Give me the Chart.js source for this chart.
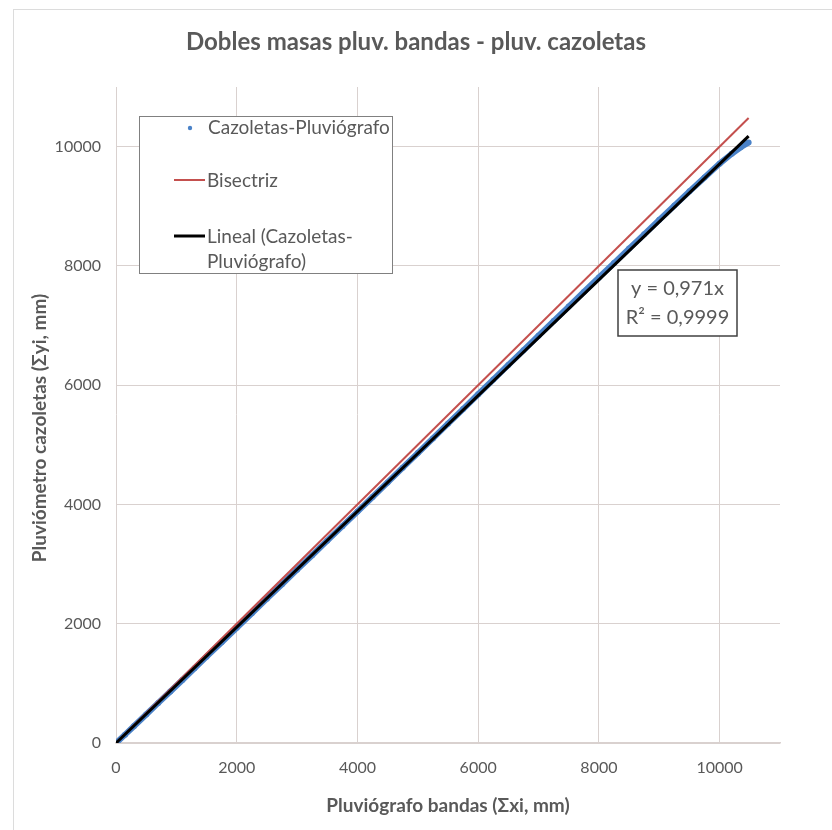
<!DOCTYPE html>
<html>
<head>
<meta charset="utf-8">
<script src="https://cdn.jsdelivr.net/npm/chart.js@4/dist/chart.umd.min.js"></script>
<style>
  html, body { margin: 0; padding: 0; background: #ffffff; }
  #wrap { position: relative; width: 832px; height: 830px; overflow: hidden; }
  #frame { position: absolute; left: 13px; top: 9px; width: 900px; height: 900px; border: 1px solid #dcdcdc; }
  canvas { position: absolute; left: 0; top: 0; }
</style>
</head>
<body>
<div id="wrap">
  <div id="frame"></div>
  <canvas id="c" width="832" height="830"></canvas>
</div>
<script>
// Cumulative rainfall, strip-chart recorder (x) vs. bucket recorder (y), mm
const sumX = [0, 150, 300, 500, 700, 900, 1100, 1300, 1500, 1750, 2000, 2250, 2500, 2750, 3000,
  3250, 3500, 3750, 4000, 4250, 4500, 4750, 5000, 5250, 5500, 5750, 6000, 6250, 6500, 6750,
  7000, 7250, 7500, 7750, 8000, 8250, 8500, 8750, 9000, 9250, 9500, 9750, 10000, 10200, 10350, 10480];
const sumY = [0, 140, 285, 478, 672, 863, 1057, 1252, 1447, 1690, 1933, 2175, 2420, 2662, 2906,
  3148, 3392, 3636, 3880, 4125, 4370, 4616, 4862, 5108, 5354, 5600, 5848, 6094, 6340, 6585,
  6830, 7075, 7318, 7562, 7806, 8048, 8290, 8530, 8772, 9012, 9250, 9482, 9715, 9880, 9990, 10070];

// Bisector y = x and linear fit through the origin
const bisectorX = [0, 10480];
const trendSlope = 0.971;
const trendR2 = '0,9999';
const trendX = [0, 10480];

const xTicks = [0, 2000, 4000, 6000, 8000, 10000];
const yTicks = [0, 2000, 4000, 6000, 8000, 10000];

const titleText = 'Dobles masas pluv. bandas - pluv. cazoletas';
const xTitle = 'Pluviógrafo bandas (Σxi, mm)';
const yTitle = 'Pluviómetro cazoletas (Σyi, mm)';
const seriesNames = ['Cazoletas-Pluviógrafo', 'Bisectriz', 'Lineal (Cazoletas-', 'Pluviógrafo)'];

const TEXT = '#595959';
const BLUE = '#4a82c8';
const RED = '#c4504e';
const FONT = 'Lato, "Open Sans", sans-serif';

const pts = sumX.map((x, i) => ({ x: x, y: sumY[i] }));
const bis = bisectorX.map(x => ({ x: x, y: x }));
const trend = trendX.map(x => ({ x: x, y: trendSlope * x }));

// Titles, in-plot legend box and the equation label
const decor = {
  id: 'decor',
  afterDatasetsDraw(chart) {
    const ctx = chart.ctx;
    const a = chart.chartArea;
    ctx.save();
    ctx.fillStyle = TEXT;
    ctx.textBaseline = 'middle';

    // chart title
    ctx.font = 'bold 24px ' + FONT;
    ctx.textAlign = 'center';
    ctx.fillText(titleText, 416, 42);

    // axis titles
    ctx.font = 'bold 19px ' + FONT;
    ctx.fillText(xTitle, (a.left + a.right) / 2, 806);
    ctx.save();
    ctx.translate(40, 428);
    ctx.rotate(-Math.PI / 2);
    ctx.fillText(yTitle, 0, 0);
    ctx.restore();

    // legend box
    const lx = 139, ly = 116, lw = 253, lh = 157;
    ctx.fillStyle = '#ffffff';
    ctx.fillRect(lx, ly, lw, lh);
    ctx.strokeStyle = '#808080';
    ctx.lineWidth = 1;
    ctx.strokeRect(lx + 0.5, ly + 0.5, lw, lh);

    ctx.font = '19px ' + FONT;
    ctx.textAlign = 'left';
    ctx.fillStyle = BLUE;
    ctx.beginPath();
    ctx.arc(190, 128, 2.2, 0, Math.PI * 2);
    ctx.fill();
    ctx.fillStyle = TEXT;
    ctx.fillText(seriesNames[0], 208, 128);

    ctx.strokeStyle = RED;
    ctx.lineWidth = 2;
    ctx.beginPath(); ctx.moveTo(174, 180); ctx.lineTo(205, 180); ctx.stroke();
    ctx.fillText(seriesNames[1], 207, 181);

    ctx.strokeStyle = '#000000';
    ctx.lineWidth = 3;
    ctx.beginPath(); ctx.moveTo(174, 236); ctx.lineTo(205, 236); ctx.stroke();
    ctx.fillText(seriesNames[2], 207, 237);
    ctx.fillText(seriesNames[3], 207, 262);

    // equation label
    const bx = 618, by = 270, bw = 119, bh = 66;
    ctx.fillStyle = '#ffffff';
    ctx.fillRect(bx, by, bw, bh);
    ctx.strokeStyle = '#404040';
    ctx.lineWidth = 1.5;
    ctx.strokeRect(bx, by, bw, bh);
    ctx.fillStyle = TEXT;
    ctx.font = '20px ' + FONT;
    ctx.textAlign = 'center';
    ctx.fillText('y = ' + String(trendSlope).replace('.', ',') + 'x', bx + bw / 2, by + 19);
    ctx.fillText('R² = ' + trendR2, bx + bw / 2, by + 48);
    ctx.restore();
  }
};

const plainTick = v => String(v);

new Chart(document.getElementById('c'), {
  type: 'scatter',
  data: {
    datasets: [
      { label: seriesNames[0], data: pts, showLine: true, borderColor: BLUE, backgroundColor: BLUE,
        borderWidth: 6, pointRadius: 3, pointBorderWidth: 0, order: 3 },
      { label: seriesNames[1], data: bis, showLine: true, borderColor: RED, borderWidth: 2,
        pointRadius: 0, order: 2 },
      { label: 'Lineal (Cazoletas-Pluviógrafo)', data: trend, showLine: true, borderColor: '#000000',
        borderWidth: 3, pointRadius: 0, order: 1 }
    ]
  },
  options: {
    responsive: false,
    animation: false,
    layout: { padding: { top: 87, right: 52, left: 0, bottom: 0 } },
    plugins: { legend: { display: false }, title: { display: false }, tooltip: { enabled: false } },
    scales: {
      x: {
        type: 'linear', min: 0, max: 11000,
        afterFit(s) { s.height = 87; },
        afterBuildTicks(s) { s.ticks = xTicks.map(v => ({ value: v })); },
        grid: { color: '#d9d1cf', lineWidth: 1, drawTicks: false },
        border: { color: '#d9d1cf', width: 1.5 },
        ticks: { color: TEXT, font: { family: FONT, size: 16 }, padding: 15, maxRotation: 0, callback: plainTick }
      },
      y: {
        type: 'linear', min: 0, max: 11000,
        afterFit(s) { s.width = 116; },
        afterBuildTicks(s) { s.ticks = yTicks.map(v => ({ value: v })); },
        grid: { color: '#d9d1cf', lineWidth: 1, drawTicks: false },
        border: { display: false },
        ticks: { color: TEXT, font: { family: FONT, size: 16 }, padding: 15, callback: plainTick }
      }
    }
  },
  plugins: [decor]
});
</script>
</body>
</html>
